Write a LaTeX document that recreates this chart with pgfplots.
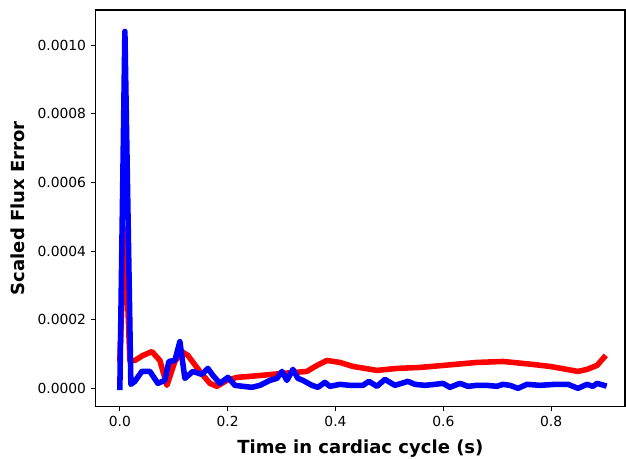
\documentclass[border=0pt]{standalone}
\usepackage{fontspec}
\setmainfont{DejaVu Sans}
\usepackage{pgfplots}
\pgfplotsset{compat=1.18}

\begin{document}
\begin{tikzpicture}
\begin{axis}[
    at={(0,0)}, anchor=south west,
    scale only axis,
    width=381.6pt, height=285.8pt,
    xmin=-0.0446, xmax=0.937,
    ymin=-0.0000525, ymax=0.0011025,
    xtick={0,0.2,0.4,0.6,0.8},
    ytick={0,0.0002,0.0004,0.0006,0.0008,0.001},
    scaled y ticks=false,
    scaled x ticks=false,
    xticklabel style={/pgf/number format/fixed,/pgf/number format/fixed zerofill,/pgf/number format/precision=1},
    yticklabel style={/pgf/number format/fixed,/pgf/number format/fixed zerofill,/pgf/number format/precision=4},
    /pgf/number format/assume math mode=true,
    tick label style={font=\fontsize{10}{12}\selectfont},
    tick align=outside,
    major tick length=3.5pt,
    tick style={black, line width=0.8pt},
    axis line style={line width=0.8pt},
    xtick pos=bottom, ytick pos=left,
    xlabel={\fontsize{13}{15}\selectfont\bfseries Time in cardiac cycle (s)},
    ylabel={\fontsize{13}{15}\selectfont\bfseries Scaled Flux Error},
    xlabel style={yshift=-3pt},
    ylabel style={yshift=2pt},
]
% first series (red)
\addplot[red, line width=4pt, line cap=rect, line join=round] coordinates {
    (0, 0.0000870) (0.0093, 0.000464) (0.0186, 0.0000812) (0.0278, 0.0000812)
    (0.0427, 0.0000957) (0.0594, 0.000107) (0.0742, 0.0000812) (0.0872, 0.0000087)
    (0.1020, 0.0000783) (0.1150, 0.000107) (0.1262, 0.0000957) (0.1484, 0.0000493)
    (0.1670, 0.0000145) (0.1800, 0.0000058) (0.1985, 0.0000232) (0.2171, 0.0000319)
    (0.2412, 0.0000348) (0.3024, 0.0000435) (0.3469, 0.0000493) (0.3655, 0.0000667)
    (0.3840, 0.0000812) (0.4082, 0.0000754) (0.4323, 0.0000638) (0.4768, 0.0000522)
    (0.5139, 0.0000580) (0.5566, 0.0000609) (0.5993, 0.0000667) (0.6623, 0.0000754)
    (0.7106, 0.0000783) (0.7662, 0.0000696) (0.7978, 0.0000638) (0.8293, 0.0000551)
    (0.8497, 0.0000493) (0.8664, 0.0000551) (0.8850, 0.0000667) (0.8980, 0.0000899)
};
% second series (blue)
\addplot[blue, line width=4pt, line cap=rect, line join=round] coordinates {
    (0, 0.0000029) (0.0093, 0.00104) (0.0204, 0.0000116) (0.0278, 0.0000203)
    (0.0408, 0.0000493) (0.0557, 0.0000493) (0.0705, 0.0000145) (0.0835, 0.0000232)
    (0.0909, 0.0000783) (0.1020, 0.0000812) (0.1113, 0.000136) (0.1206, 0.0000290)
    (0.1354, 0.0000493) (0.1521, 0.0000406) (0.1633, 0.0000580) (0.1725, 0.0000377)
    (0.1855, 0.0000145) (0.2004, 0.0000319) (0.2134, 0.0000087) (0.2282, 0.0000058)
    (0.2449, 0.0000029) (0.2597, 0.0000087) (0.2783, 0.0000232) (0.2913, 0.0000290)
    (0.3006, 0.0000493) (0.3098, 0.0000232) (0.3210, 0.0000551) (0.3302, 0.0000290)
    (0.3395, 0.0000232) (0.3562, 0.0000087) (0.3673, 0.0000029) (0.3803, 0.0000174)
    (0.3896, 0.0000058) (0.4082, 0.0000116) (0.4267, 0.0000087) (0.4508, 0.0000087)
    (0.4620, 0.0000203) (0.4768, 0.0000058) (0.4917, 0.0000261) (0.5102, 0.0000087)
    (0.5343, 0.0000203) (0.5473, 0.0000116) (0.5659, 0.0000087) (0.5844, 0.0000116)
    (0.5993, 0.0000145) (0.6122, 0.0000029) (0.6308, 0.0000145) (0.6456, 0.0000058)
    (0.6623, 0.0000087) (0.6809, 0.0000087) (0.6994, 0.0000058) (0.7106, 0.0000116)
    (0.7236, 0.0000087) (0.7384, 0.0) (0.7551, 0.0000116) (0.7792, 0.0000087)
    (0.8071, 0.0000116) (0.8312, 0.0000116) (0.8497, 0.0) (0.8664, 0.0000116)
    (0.8776, 0.0000058) (0.8850, 0.0000145) (0.8980, 0.0000087)
};
\end{axis}
\pgfresetboundingbox
\useasboundingbox (-69.1pt,-37.4pt) rectangle (382.3pt,293pt);
\end{tikzpicture}
\end{document}
